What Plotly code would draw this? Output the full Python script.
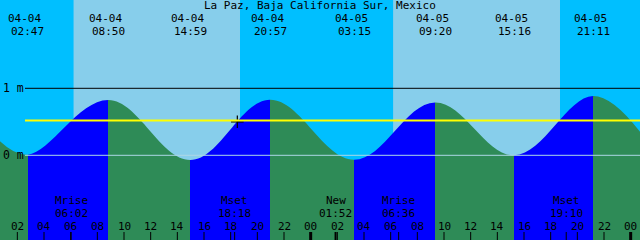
import plotly.graph_objects as go

# ---------------- data ----------------
title = "La Paz, Baja California Sur, Mexico"

tide_dates = ["04-04", "04-04", "04-04", "04-04", "04-05", "04-05", "04-05", "04-05"]
tide_times = ["02:47", "08:50", "14:59", "20:57", "03:15", "09:20", "15:16", "21:11"]
tide_heights = [0.01, 0.825, -0.07, 0.83, -0.065, 0.79, 0.0, 0.885]
tide_kind = ["low", "high", "low", "high", "low", "high", "low", "high"]

# curve level at the left and right edges of the window (m)
edge_heights = [0.21, 0.35]

sun_dates = ["04-04", "04-05"]
sunrise_times = ["06:13", "06:11"]
sunset_times = ["18:42", "18:42"]

moon_labels = ["Mrise", "Mset", "New", "Mrise", "Mset"]
moon_dates = ["04-04", "04-04", "04-05", "04-05", "04-05"]
moon_times = ["06:02", "18:18", "01:52", "06:36", "19:10"]

now_date, now_time, now_height = "04-04", "18:30", 0.50
mean_level = 0.52

hour_ticks = [2, 4, 6, 8, 10, 12, 14, 16, 18, 20, 22, 24,
              26, 28, 30, 32, 34, 36, 38, 40, 42, 44, 46, 48]
hour_labels = ["02", "04", "06", "08", "10", "12", "14", "16", "18", "20", "22", "00",
               "02", "04", "06", "08", "10", "12", "14", "16", "18", "20", "22", "00"]

t_start, t_end = 0.7, 48.7      # window in hours from 04-04 00:00
y_min, y_max = -1.264, 2.318

# ---------------- helpers ----------------
def hours(date, hm):
    day = 0 if date == "04-04" else 24
    h, m = hm.split(":")
    return day + int(h) + int(m) / 60.0

W, H = 640, 240
def py(px):  # pixel from top -> paper y
    return 1 - px / H

NIGHT = "#00BFFF"
DAY = "#87CEEB"
RISE = "#0000FF"
FALL = "#2E8B57"
FONT = "DejaVu Sans Mono"
FS = 11

tide_t = [hours(d, t) for d, t in zip(tide_dates, tide_times)]

fig = go.Figure()

# baseline for fill
fig.add_trace(go.Scatter(x=[t_start, t_end], y=[y_min, y_min], mode="lines",
                         line=dict(width=0), hoverinfo="skip", showlegend=False))

# stepped horizontal gradient: rising = blue, falling = green
span = t_end - t_start
stops = []
prev_col = FALL if tide_kind[0] == "low" else RISE
stops.append([0.0, prev_col])
for t, k in zip(tide_t, tide_kind):
    p = (t - t_start) / span
    new_col = RISE if k == "low" else FALL
    stops.append([p, prev_col])
    stops.append([p, new_col])
    prev_col = new_col
stops.append([1.0, prev_col])

curve_x = [t_start] + tide_t + [t_end]
curve_y = [edge_heights[0]] + tide_heights + [edge_heights[1]]
fig.add_trace(go.Scatter(
    x=curve_x, y=curve_y, mode="lines",
    line=dict(width=0, shape="spline", smoothing=1.1),
    fill="tonexty",
    fillgradient=dict(type="horizontal", colorscale=stops, start=t_start, stop=t_end),
    hoverinfo="skip", showlegend=False))

# current position cross
fig.add_trace(go.Scatter(x=[hours(now_date, now_time)], y=[now_height], mode="markers",
                         marker=dict(symbol="cross-thin", size=9,
                                     line=dict(width=1.2, color="black")),
                         hoverinfo="skip", showlegend=False))

shapes = []
# sky: night background with day bands
shapes.append(dict(type="rect", xref="paper", yref="paper", x0=0, x1=1, y0=0, y1=1,
                   fillcolor=NIGHT, line=dict(width=0), layer="below"))
for d, sr, ss in zip(sun_dates, sunrise_times, sunset_times):
    shapes.append(dict(type="rect", xref="x", yref="paper", x0=hours(d, sr), x1=hours(d, ss),
                       y0=0, y1=1, fillcolor=DAY, line=dict(width=0), layer="below"))

# reference lines
x_left = 25 / W
shapes.append(dict(type="line", xref="paper", yref="y", x0=x_left, x1=1, y0=1, y1=1,
                   line=dict(color="black", width=1)))
shapes.append(dict(type="line", xref="paper", yref="y", x0=x_left, x1=1, y0=0, y1=0,
                   line=dict(color="#ADD8E6", width=1)))
shapes.append(dict(type="line", xref="paper", yref="y", x0=x_left, x1=1,
                   y0=mean_level, y1=mean_level, line=dict(color="#FFFF00", width=2)))

# hour ticks
for t in hour_ticks:
    w = 3 if t % 24 == 0 else 1
    shapes.append(dict(type="line", xref="x", yref="paper", x0=t, x1=t,
                       y0=0, y1=8 / H, line=dict(color="black", width=w)))
# moon event ticks
for lab, d, tm in zip(moon_labels, moon_dates, moon_times):
    t = hours(d, tm)
    shapes.append(dict(type="line", xref="x", yref="paper", x0=t, x1=t,
                       y0=0, y1=8 / H, line=dict(color="black", width=2 if lab == "New" else 1)))

ann = []
def text(x, y, s, size=FS, xref="x", xanchor="center", xshift=0):
    ann.append(dict(x=x, y=y, xref=xref, yref="paper", text=s, showarrow=False,
                    xanchor=xanchor, yanchor="middle", xshift=xshift, borderpad=0,
                    font=dict(family=FONT, size=size, color="black")))

text(0.5, py(5.4), title, size=11, xref="paper")
for d, tm, t in zip(tide_dates, tide_times, tide_t):
    text(t, py(18.4), d, xshift=-3)
    text(t, py(31.3), tm)

for t, lab in zip(hour_ticks, hour_labels):
    text(t, py(226), lab)
for lab, d, tm in zip(moon_labels, moon_dates, moon_times):
    t = hours(d, tm)
    text(t, py(200.2), lab)
    text(t, py(213.1), tm)

ann.append(dict(x=0, y=1, xref="paper", yref="y", text="1 m", showarrow=False,
                xanchor="left", yanchor="middle", xshift=2, borderpad=0,
                font=dict(family=FONT, size=11.5, color="black")))
ann.append(dict(x=0, y=0, xref="paper", yref="y", text="0 m", showarrow=False,
                xanchor="left", yanchor="middle", xshift=2, borderpad=0,
                font=dict(family=FONT, size=11.5, color="black")))

fig.update_layout(
    width=W, height=H, autosize=False,
    margin=dict(l=0, r=0, t=0, b=0, pad=0),
    paper_bgcolor=NIGHT, plot_bgcolor=NIGHT,
    xaxis=dict(range=[t_start, t_end], visible=False, fixedrange=True),
    yaxis=dict(range=[y_min, y_max], visible=False, fixedrange=True),
    shapes=shapes, annotations=ann, showlegend=False,
)

fig.write_html("out.html", config={"displayModeBar": False})
